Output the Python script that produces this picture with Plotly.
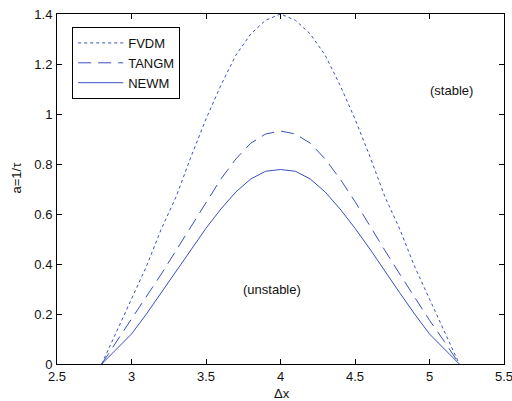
import plotly.graph_objects as go

# Grid spacing along the x axis
dx = [2.8, 2.9, 3.0, 3.1, 3.2, 3.3, 3.4, 3.5, 3.6, 3.7, 3.8, 3.9, 4.0,
      4.1, 4.2, 4.3, 4.4, 4.5, 4.6, 4.7, 4.8, 4.9, 5.0, 5.1, 5.2]

# Critical sensitivity a = 1/tau for each model
fvdm = [0.0, 0.13, 0.26, 0.39, 0.54, 0.67, 0.83, 0.98, 1.115, 1.235, 1.32, 1.375, 1.40,
        1.375, 1.32, 1.235, 1.115, 0.98, 0.83, 0.67, 0.54, 0.39, 0.26, 0.13, 0.0]
tangm = [0.0, 0.09, 0.175, 0.265, 0.36, 0.455, 0.55, 0.65, 0.74, 0.82, 0.883, 0.92, 0.932,
         0.92, 0.883, 0.82, 0.74, 0.65, 0.55, 0.455, 0.36, 0.265, 0.175, 0.09, 0.0]
newm = [0.0, 0.06, 0.12, 0.2, 0.285, 0.37, 0.46, 0.543, 0.62, 0.688, 0.74, 0.771, 0.778,
        0.771, 0.74, 0.688, 0.62, 0.543, 0.46, 0.37, 0.285, 0.2, 0.12, 0.06, 0.0]

x_ticks = [2.5, 3.0, 3.5, 4.0, 4.5, 5.0, 5.5]
x_tick_labels = ["2.5", "3", "3.5", "4", "4.5", "5", "5.5"]
y_ticks = [0, 0.2, 0.4, 0.6, 0.8, 1.0, 1.2, 1.4]
y_tick_labels = ["0", "0.2", "0.4", "0.6", "0.8", "1", "1.2", "1.4"]

blue = "#3a4fc2"
ink = "#111111"
font = "Liberation Sans, Arial, sans-serif"
fsize = 13

fig = go.Figure()
fig.add_trace(go.Scatter(x=dx, y=fvdm, mode="lines", name="FVDM",
                         line=dict(color=blue, width=1, dash="3px,3px")))
fig.add_trace(go.Scatter(x=dx, y=tangm, mode="lines", name="TANGM",
                         line=dict(color=blue, width=1, dash="13px,7px")))
fig.add_trace(go.Scatter(x=dx, y=newm, mode="lines", name="NEWM",
                         line=dict(color=blue, width=1)))

axis_common = dict(
    showgrid=False, zeroline=False, showline=True, linecolor="black", linewidth=1,
    mirror="ticks", ticks="inside", ticklen=5, tickcolor="black", tickwidth=1,
    tickfont=dict(family=font, size=fsize, color=ink),
    automargin=False, ticklabeloverflow="allow",
)

fig.update_xaxes(range=[2.5, 5.5], tickvals=x_ticks, ticktext=x_tick_labels,
                 ticklabelstandoff=0, **axis_common)
fig.update_yaxes(range=[0, 1.4], tickvals=y_ticks, ticktext=y_tick_labels,
                 ticklabelstandoff=1, **axis_common)

# Axis titles
fig.add_annotation(xref="paper", yref="paper", x=0.503, y=0, yshift=-29,
                   xanchor="center", yanchor="middle", text="Δx", showarrow=False,
                   font=dict(family=font, size=fsize, color=ink))
fig.add_annotation(xref="paper", yref="paper", x=0, xshift=-41, y=0.533,
                   xanchor="center", yanchor="middle", text="a=1/τ", textangle=-90,
                   showarrow=False, font=dict(family=font, size=fsize, color=ink))

# Region labels
fig.add_annotation(x=5.146, y=1.096, text="(stable)", showarrow=False,
                   font=dict(family=font, size=fsize, color=ink))
fig.add_annotation(x=3.942, y=0.30, text="(unstable)", showarrow=False,
                   font=dict(family=font, size=fsize, color=ink))

fig.update_layout(
    width=512, height=401,
    margin=dict(l=57, r=8, t=14, b=37, autoexpand=False),
    paper_bgcolor="white", plot_bgcolor="white",
    font=dict(family=font, size=fsize, color=ink),
    legend=dict(x=0.034, y=0.963, xanchor="left", yanchor="top",
                bgcolor="white", bordercolor="black", borderwidth=1,
                font=dict(family=font, size=fsize, color=ink),
                itemwidth=45, tracegroupgap=0),
    showlegend=True,
)

fig.write_html("out.html")
